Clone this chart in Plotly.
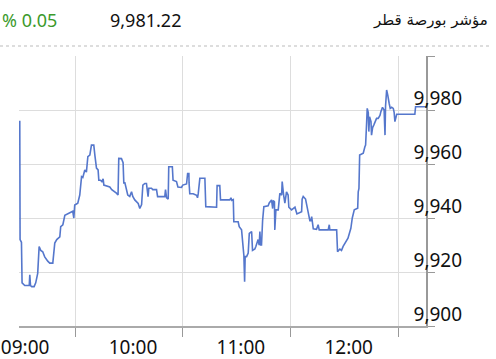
import plotly.graph_objects as go
import pandas as pd

# minutes after 09:30 session open, and index level
minutes = [-0.77, -0.6, 0.17, 0.51, 2.0, 4.5, 4.8, 5.2, 5.9, 7.2, 8.1, 9.2, 10.0, 10.9, 12.0, 13.1,
           14.8, 15.9, 17.6, 18.7, 19.8, 21.5, 22.0, 23.2, 24.3, 27.1, 28.7, 29.3, 29.8, 31.5, 32.6,
           33.6, 34.3, 35.4, 36.3, 37.1, 38.2, 39.1, 40.4, 41.0, 41.9, 42.8, 43.2, 44.1, 44.9, 45.6,
           46.0, 49.3, 50.4, 53.0, 53.9, 54.3, 55.8, 56.7, 57.1, 57.7, 58.6, 59.3, 60.4, 61.4, 62.1,
           63.2, 65.1, 66.0, 67.0, 67.7, 68.8, 69.7, 70.6, 71.0, 72.5, 73.2, 75.3, 75.9, 79.9, 80.3,
           80.9, 81.8, 82.1, 84.1, 84.5, 86.4, 87.2, 89.2, 89.9, 92.0, 92.6, 93.3, 93.4, 93.8, 95.7,
           97.6, 98.1, 98.5, 99.4, 102.2, 102.7, 106.6, 108.7, 109.0, 110.5, 110.9, 116.1, 116.7,
           117.2, 118.0, 118.3, 120.7, 121.3, 122.6, 123.2, 123.9, 124.3, 124.6, 125.4, 126.3, 126.9,
           128.2, 128.7, 130.0, 130.6, 131.8, 132.4, 132.8, 133.2, 133.7, 134.3, 135.0, 137.4, 138.0,
           139.3, 139.9, 140.2, 140.9, 141.1, 141.7, 143.0, 143.9, 144.9, 145.2, 146.0, 146.7, 147.6,
           148.5, 148.9, 149.5, 150.4, 151.3, 152.3, 153.4, 156.0, 156.3, 156.9, 158.2, 158.8, 159.3,
           159.7, 160.6, 161.2, 161.6, 162.5, 164.3, 165.2, 165.8, 170.8, 171.4, 171.7, 175.5, 176.0,
           177.3, 178.2, 179.1, 180.1, 181.8, 183.4, 184.2, 185.3, 187.2, 187.5, 187.9, 188.3, 190.3,
           191.2, 191.6, 192.2, 192.5, 193.1, 193.4, 193.8, 194.6, 194.9, 195.5, 196.2, 196.8, 197.7,
           198.6, 199.6, 200.1, 201.0, 201.9, 202.4, 202.7, 203.3, 203.9, 204.2, 204.7, 205.3, 206.1,
           207.0, 207.5, 207.9, 208.3, 208.9, 219.0, 219.4, 225.2]
values = [9976, 9932, 9931, 9916, 9915, 9915, 9919, 9915, 9914.6, 9914.6, 9916, 9919.5, 9929.4, 9928,
          9927.5, 9925.6, 9924, 9923.3, 9923.3, 9930.7, 9932, 9933, 9936.8, 9937.5, 9941, 9941.8,
          9942.5, 9940, 9944.8, 9945.5, 9948.5, 9955.3, 9955, 9957.8, 9957, 9962.7, 9963.3, 9967,
          9967, 9963.3, 9958.5, 9957.8, 9954, 9954, 9953.5, 9954.5, 9952.2, 9951.5, 9950.5, 9949.2,
          9948.5, 9962.1, 9962, 9960.5, 9953, 9953, 9951, 9948.5, 9948, 9949.7, 9948, 9946.7, 9945.4,
          9943.5, 9945, 9952.2, 9952.8, 9952.8, 9947.9, 9951, 9951, 9950.5, 9950.5, 9947.9, 9947.9,
          9950.5, 9947.5, 9947, 9959, 9959, 9954, 9953.5, 9951.5, 9951.3, 9952.2, 9952.6, 9956.5,
          9956.5, 9953, 9949, 9949, 9948.4, 9947.5, 9949, 9954.7, 9954.7, 9944.2, 9944, 9944, 9952,
          9952, 9946.7, 9946.7, 9947.5, 9946.5, 9946.8, 9938.6, 9938.6, 9936.8, 9935.6, 9931, 9926,
          9916.4, 9925.7, 9925.7, 9927, 9934.3, 9935, 9928, 9928.5, 9929.5, 9932, 9930, 9935, 9930,
          9930, 9939, 9944.2, 9944.5, 9945.6, 9946.7, 9943.5, 9946.5, 9946, 9935.6, 9943, 9943,
          9949.1, 9948.5, 9953.5, 9948.5, 9945.5, 9949.7, 9948.5, 9944, 9943.5, 9943, 9943.5, 9944,
          9941.5, 9942.3, 9947, 9948, 9947, 9944.5, 9943, 9942, 9939, 9939, 9940.5, 9936, 9935.8,
          9937.5, 9935.6, 9935.6, 9937.5, 9935.6, 9935.6, 9927.5, 9928.5, 9928, 9929.5, 9930.6,
          9932.5, 9936.2, 9940, 9943, 9943.6, 9949.7, 9951, 9963.3, 9964, 9966.4, 9967, 9975.7,
          9980.6, 9979, 9972, 9977.5, 9975.7, 9970.7, 9973.5, 9974.5, 9975.7, 9976.9, 9976.9, 9978,
          9979.4, 9981, 9980, 9970.7, 9981.5, 9987.4, 9985.6, 9984, 9982.5, 9980.6, 9981, 9980.6,
          9979, 9975.7, 9977.5, 9978.4, 9978.4, 9981.2, 9981.2]

grid_minutes = [30, 90, 150, 210]
label_minutes = [2.2, 62.2, 122.2, 182.2]
x_tick_labels = ["09:00", "10:00", "11:00", "12:00"]
y_grid = [9900, 9920, 9940, 9960, 9980, 10000]
y_tick_labels = ["9,900", "9,920", "9,940", "9,960", "9,980", ""]
title_text = "مؤشر بورصة قطر"
last_value_text = "9,981.22"
change_text = "% 0.05"

base = pd.Timestamp("2024-01-01 09:30:00")
times = base + pd.to_timedelta(minutes, unit="m")
grid_times = base + pd.to_timedelta(grid_minutes, unit="m")
label_times = base + pd.to_timedelta(label_minutes, unit="m")
x_range = [base + pd.Timedelta(minutes=-1.2), base + pd.Timedelta(minutes=225.2)]

FONT = "Noto Sans, Liberation Sans, sans-serif"

fig = go.Figure()
fig.add_trace(go.Scatter(x=times, y=values, mode="lines",
                         line=dict(color="#5577cc", width=1.6), hoverinfo="skip"))

fig.update_layout(
    width=496, height=359,
    margin=dict(l=19, r=70, t=56, b=33, autoexpand=False),
    paper_bgcolor="white", plot_bgcolor="white",
    showlegend=False,
    font=dict(family=FONT, size=19, color="#111"),
    xaxis=dict(
        type="date", range=x_range, automargin=False,
        tickmode="array", tickvals=list(label_times), ticktext=x_tick_labels,
        ticks="", ticklen=9, showgrid=False,
        ticklabeloverflow="allow", ticklabelstandoff=3,
        minor=dict(tickmode="array", tickvals=list(grid_times),
                   ticks="outside", ticklen=9, tickcolor="#999", tickwidth=1,
                   showgrid=True, gridcolor="#dddddd", gridwidth=1),
        showline=True, linecolor="#aaaaaa", linewidth=1.5,
        zeroline=False, fixedrange=True,
        tickfont=dict(family=FONT, size=19, color="#111"),
    ),
    yaxis=dict(
        range=[9900, 10000], side="right", automargin=False,
        tickmode="array", tickvals=y_grid, ticktext=y_tick_labels,
        ticks="outside", ticklen=7, tickcolor="#999", tickwidth=1,
        ticklabelshift=-12, ticklabelstandoff=-25,
        showgrid=True, gridcolor="#dddddd", gridwidth=1,
        showline=True, linecolor="#999999", linewidth=1.5,
        zeroline=False, fixedrange=True,
        tickfont=dict(family=FONT, size=19, color="#111"),
    ),
)

PW = 407.0
PH = 270.0
def px_x(p):
    return (p - 19) / PW
def px_y(p):
    return (326 - p) / PH

fig.add_shape(type="line", xref="paper", yref="paper",
              x0=px_x(0), x1=px_x(492), y0=px_y(46), y1=px_y(46),
              line=dict(color="#bbbbbb", width=1, dash="dot"))

fig.add_annotation(xref="paper", yref="paper", x=px_x(0), y=px_y(19.5),
                   xanchor="left", yanchor="middle", showarrow=False,
                   text=change_text, font=dict(family=FONT, size=18, color="#3c9a2c"))
fig.add_annotation(xref="paper", yref="paper", x=px_x(108), y=px_y(19.5),
                   xanchor="left", yanchor="middle", showarrow=False,
                   text=last_value_text, font=dict(family=FONT, size=18, color="#111"))
fig.add_annotation(xref="paper", yref="paper", x=px_x(490), y=px_y(19.5),
                   xanchor="right", yanchor="middle", showarrow=False,
                   text=title_text, font=dict(family="DejaVu Sans, sans-serif", size=15, color="#111"))

fig.write_html("out.html")
